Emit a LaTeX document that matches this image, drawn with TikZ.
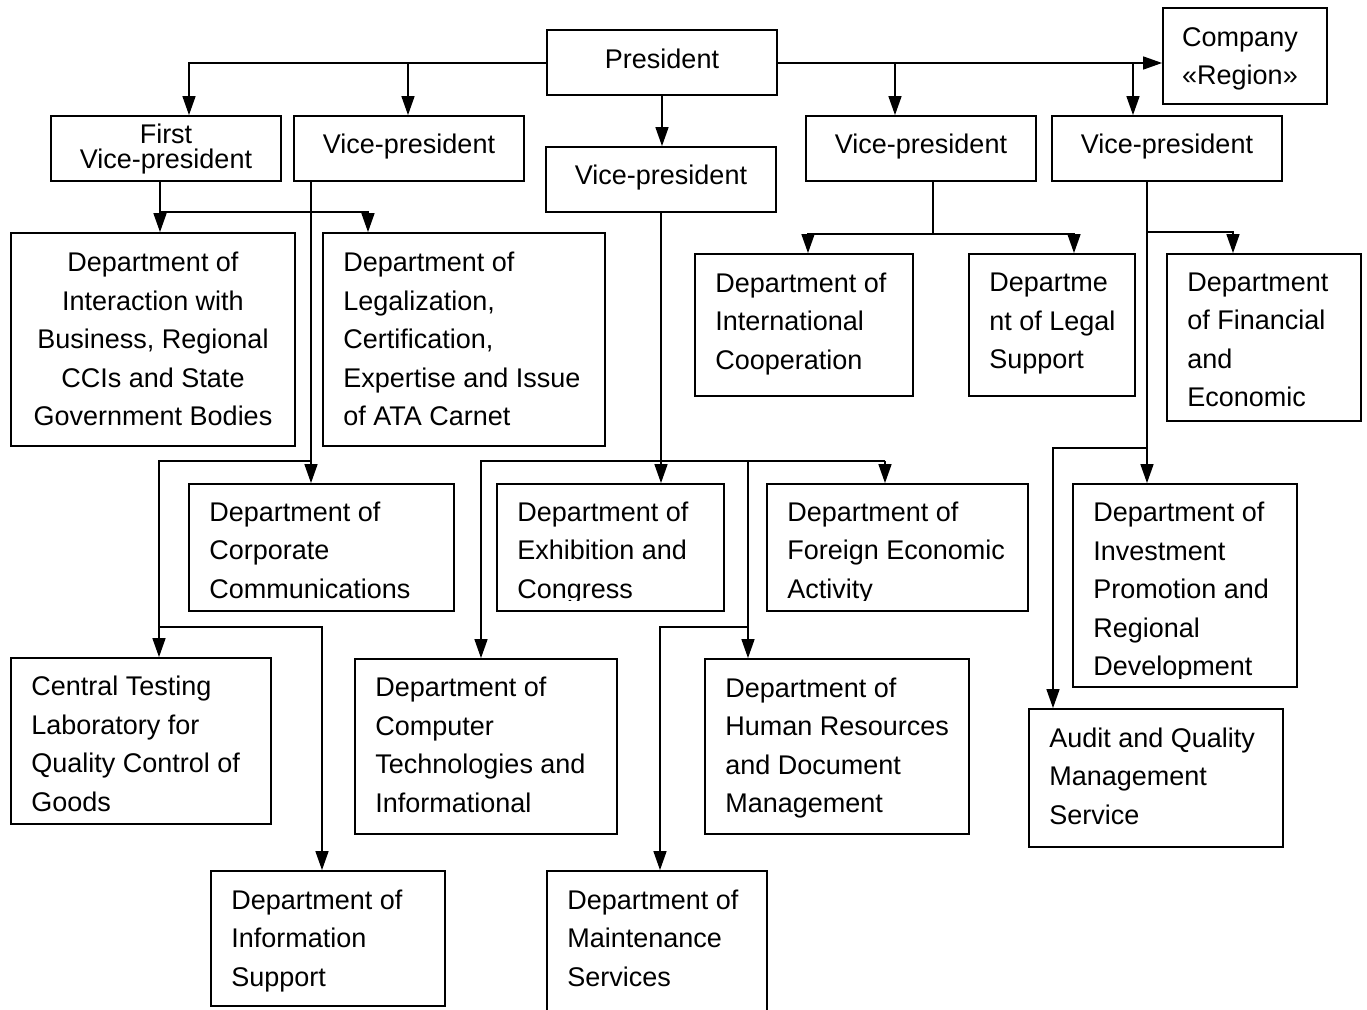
\documentclass[tikz,border=0pt]{standalone}
\usepackage{fontspec}
\setmainfont{Liberation Sans}
\usetikzlibrary{arrows.meta,fit}
\begin{document}
\begin{tikzpicture}[x=0.5pt,y=-0.5pt,
  box/.style={draw=black, line width=0.9pt, inner sep=0pt},
  txt/.style={font=\fontsize{13.5}{19.25}\selectfont, align=left, inner sep=0pt, anchor=west},
  ctxt/.style={font=\fontsize{13.5}{19.25}\selectfont, align=center, inner sep=0pt},
  ln/.style={line width=0.75pt, line cap=rect},
  arr/.style={line width=0.75pt, -{Triangle[length=9.5pt,width=6.5pt]}}]
\useasboundingbox[fill=white] (0,0) rectangle (1367,1010);

% ---- boxes ----
\node[box, fit={(547,30) (777,95)}] (pres) {};
\node[box, fit={(1163,8) (1327,104)}] (comp) {};
\node[box, fit={(51,116) (281,181)}] (fvp) {};
\node[box, fit={(294,116) (524,181)}] (vp2) {};
\node[box, fit={(546,147) (776,212)}] (vp3) {};
\node[box, fit={(806,116) (1036,181)}] (vp4) {};
\node[box, fit={(1052,116) (1282,181)}] (vp5) {};
\node[box, fit={(11,233) (295,446)}] (inter) {};
\node[box, fit={(323,233) (605,446)}] (legal) {};
\node[box, fit={(695,254) (913,396)}] (intl) {};
\node[box, fit={(969,254) (1135,396)}] (lsup) {};
\node[box, fit={(1167,254) (1361,421)}] (fin) {};
\node[box, fit={(189,484) (454,611)}] (corp) {};
\node[box, fit={(497,484) (724,611)}] (exh) {};
\node[box, fit={(767,484) (1028,611)}] (fea) {};
\node[box, fit={(1073,484) (1297,687)}] (inv) {};
\node[box, fit={(11,658) (271,824)}] (ctl) {};
\node[box, fit={(355,659) (617,834)}] (ctech) {};
\node[box, fit={(705,659) (969,834)}] (hr) {};
\node[box, fit={(1029,709) (1283,847)}] (aud) {};
\node[box, fit={(211,871) (445,1006)}] (info) {};
\node[box, fit={(547,871) (767,1030)}] (maint) {};

% ---- texts ----
\node[ctxt] (presT) at (662,59) {President};
\node[ctxt] (compT) at (1240,59) {Company\\«Region»};
\node[ctxt, font=\fontsize{13.5}{12.5}\selectfont] (fvpT) at (166,149) {First\\Vice-president};
\node[ctxt] (vp2T) at (409,147) {Vice-president};
\node[ctxt] (vp3T) at (661,178) {Vice-president};
\node[ctxt] (vp4T) at (921,147) {Vice-president};
\node[ctxt] (vp5T) at (1167,147) {Vice-president};
\node[ctxt] (interT) at (153,339) {Department of\\Interaction with\\Business, Regional\\CCIs and State\\Government Bodies};
\node[txt] (legalT) at (343,339) {Department of\\Legalization,\\Certification,\\Expertise and Issue\\of ATA Carnet};
\node[txt] (intlT) at (715,324) {Department of\\International\\Cooperation};
\node[txt] (lsupT) at (989,324) {Departme\\nt of Legal\\Support};
\node[txt] (finT) at (1187,340) {Department\\of Financial\\and\\Economic};
\node[txt] (corpT) at (209,550) {Department of\\Corporate\\Communications};
\begin{scope}
\clip (497,484) rectangle (724,601);
\node[txt] (exhT) at (517,553) {Department of\\Exhibition and\\Congress};
\end{scope}
\begin{scope}
\clip (767,484) rectangle (1028,601);
\node[txt] (feaT) at (787,553) {Department of\\Foreign Economic\\Activity};
\end{scope}
\begin{scope}
\clip (1073,484) rectangle (1297,679);
\node[txt] (invT) at (1093,592) {Department of\\Investment\\Promotion and\\Regional\\Development};
\end{scope}
\node[txt] (ctlT) at (31,744) {Central Testing\\Laboratory for\\Quality Control of\\Goods};
\node[txt] (ctechT) at (375,745) {Department of\\Computer\\Technologies and\\Informational};
\node[txt] (hrT) at (725,748) {Department of\\Human Resources\\and Document\\Management};
\node[txt] (audT) at (1049,776) {Audit and Quality\\Management\\Service};
\node[txt] (infoT) at (231,941) {Department of\\Information\\Support};
\node[txt] (maintT) at (567,938) {Department of\\Maintenance\\Services};

% ---- junction coordinates ----
\coordinate (p1) at (189,63);
\coordinate (p2) at (408,63);
\coordinate (p3) at (895,63);
\coordinate (p4) at (1133,63);
\coordinate (q1) at (160,212);
\coordinate (q2) at (368,212);
\coordinate (r1) at (311,461);
\coordinate (r2) at (159,627);
\coordinate (r3) at (322,627);
\coordinate (s0) at (481,461);
\coordinate (s1) at (661,461);
\coordinate (s2) at (885,461);
\coordinate (s3) at (748,461);
\coordinate (s4) at (748,627);
\coordinate (s5) at (660,627);
\coordinate (t0) at (933,234);
\coordinate (t1) at (808,234);
\coordinate (t2) at (1074,234);
\coordinate (u0) at (1147,232);
\coordinate (u1) at (1233,232);
\coordinate (u2) at (1147,448);
\coordinate (u3) at (1053,448);

% ---- connectors ----
\draw[arr] (pres.west |- p1) -| (fvp.north -| p1);
\draw[arr] (p2) -- (p2 |- vp2.north);
\draw[arr] (pres.south) -- (pres.south |- vp3.north);
\draw[arr] (pres.east |- p3) -- (p3 -| comp.west);
\draw[arr] (p3) -- (p3 |- vp4.north);
\draw[arr] (p4) -- (p4 |- vp5.north);

\draw[arr] (q1 |- fvp.south) -- (q1 |- inter.north);
\draw[arr] (q1) -| (q2 |- legal.north);

\draw[arr] (r1 |- vp2.south) -- (r1 |- corp.north);
\draw[ln] (r1) -| (r2);
\draw[arr] (r2) -| (r3 |- info.north);
\draw[arr] (r2) -- (r2 |- ctl.north);

\draw[arr] (s1 |- vp3.south) -- (s1 |- exh.north);
\draw[arr] (s2) -| (s0 |- ctech.north);
\draw[arr] (s2) -- (s2 |- fea.north);
\draw[arr] (s3) -- (s3 |- hr.north);
\draw[arr] (s4) -| (s5 |- maint.north);

\draw[ln] (t0 |- vp4.south) -- (t0);
\draw[arr] (t0) -| (t1 |- intl.north);
\draw[arr] (t0) -| (t2 |- lsup.north);

\draw[arr] (u0 |- vp5.south) -- (u0 |- inv.north);
\draw[arr] (u0) -| (u1 |- fin.north);
\draw[arr] (u2) -| (u3 |- aud.north);
\end{tikzpicture}
\end{document}
